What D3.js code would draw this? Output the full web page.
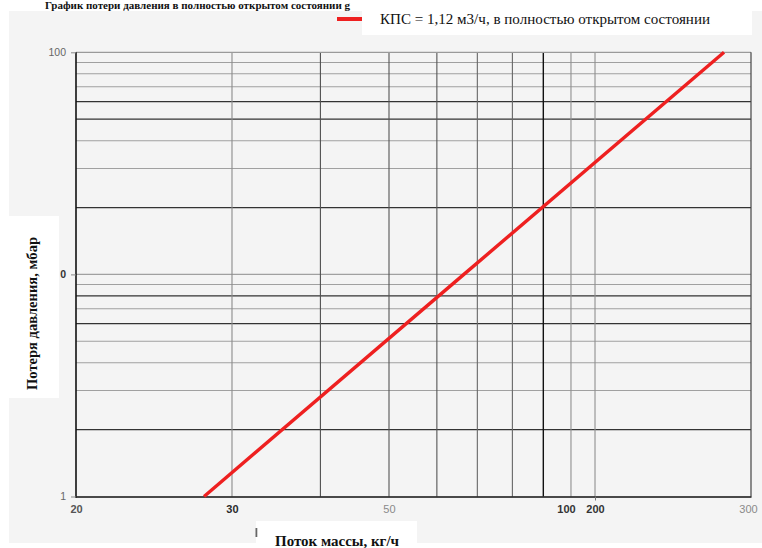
<!DOCTYPE html>
<html>
<head>
<meta charset="utf-8">
<script src="https://cdn.jsdelivr.net/npm/d3@7"></script>
<style>
  html, body { margin: 0; padding: 0; background: #ffffff; }
  svg { display: block; }
</style>
</head>
<body>
<svg id="chart" width="762" height="548"></svg>
<script>
// ---------------- DATA ----------------
const titleText = "График потери давления в полностью открытом состоянии g";
const seriesName = "КПС = 1,12 м3/ч, в полностью открытом состоянии";
const xTitle = "Поток массы, кг/ч";
const yTitle = "Потеря давления, мбар";

const xTickValues = [20, 30, 50, 100, 200, 300];
const xTickLabels = ["20", "30", "50", "100", "200", "300"];
const xGridValues = [30, 40, 50, 60, 70, 80, 90, 100, 200];

const yTickValues = [1, 10, 100];
const yTickLabels = ["1", "0", "100"];
const yGridValues = [2, 3, 4, 5, 6, 7, 8, 9, 10, 20, 30, 40, 50, 60, 70, 80, 90];

const flowValues = [27.9, 66.5, 279.7];   // kg/h
const lossValues = [1, 10, 100];          // mbar

// ---------------- LAYOUT / STYLE ----------------
const plot = { left: 76, right: 751, top: 52.3, bottom: 496.5 };
// relative positions of the x-axis knots across the plot width (the source axis is non-uniform)
const xKnotFrac = [0, 0.2311, 0.4637, 0.7333, 0.7689, 1];

const darkY = new Set([2, 6, 8, 20, 50, 60]);
const xGridColor = { 30: "#8a8a8a", 40: "#505050", 50: "#555", 60: "#555", 70: "#666",
                     80: "#666", 90: "#111", 100: "#8f8f8f", 200: "#8f8f8f" };
const xLabelStyle = { "20": ["#555", "bold"], "30": ["#2a2a2a", "bold"], "50": ["#8a8a8a", "normal"],
                      "100": ["#333", "bold"], "200": ["#333", "bold"], "300": ["#8a8a8a", "normal"] };
const xLabelDx = { "100": -5, "300": -3 };
const yLabelStyle = { "100": ["#666", "normal"], "0": ["#333", "bold"], "1": ["#666", "normal"] };

const svg = d3.select("#chart");

// background panels
svg.append("rect").attr("x", 9).attr("y", 11).attr("width", 753).attr("height", 532).attr("fill", "#f4f4f4");
svg.append("rect").attr("x", 43).attr("y", 0).attr("width", 709).attr("height", 11).attr("fill", "#ffffff");
svg.append("rect").attr("x", 362).attr("y", 0).attr("width", 390).attr("height", 35).attr("fill", "#ffffff");
svg.append("rect").attr("x", 9).attr("y", 216).attr("width", 50).attr("height", 182).attr("fill", "#ffffff");
svg.append("rect").attr("x", 256).attr("y", 521).attr("width", 161).attr("height", 27).attr("fill", "#ffffff");
svg.append("rect").attr("x", 255.5).attr("y", 528).attr("width", 1.8).attr("height", 9).attr("fill", "#666");

// scales
const x = d3.scaleLog()
  .domain(xTickValues)
  .range(xKnotFrac.map(f => plot.left + f * (plot.right - plot.left)));
const y = d3.scaleLog().domain([1, 100]).range([plot.bottom, plot.top]);

// horizontal grid
svg.append("g").selectAll("line").data(yGridValues).join("line")
  .attr("x1", plot.left).attr("x2", plot.right)
  .attr("y1", d => y(d)).attr("y2", d => y(d))
  .attr("stroke", d => darkY.has(d) ? "#333" : "#a0a0a0")
  .attr("stroke-width", d => darkY.has(d) ? 1.3 : 1.1);

// vertical grid
svg.append("g").selectAll("line").data(xGridValues).join("line")
  .attr("x1", d => x(d)).attr("x2", d => x(d))
  .attr("y1", plot.top).attr("y2", plot.bottom)
  .attr("stroke", d => xGridColor[d])
  .attr("stroke-width", d => d === 90 ? 1.4 : 1.1);

// top and right borders
svg.append("line").attr("x1", plot.left).attr("x2", plot.right).attr("y1", plot.top).attr("y2", plot.top)
  .attr("stroke", "#9a9a9a").attr("stroke-width", 1.2);
svg.append("line").attr("x1", plot.right).attr("x2", plot.right).attr("y1", plot.top).attr("y2", plot.bottom)
  .attr("stroke", "#444").attr("stroke-width", 1.2);

// y axis
const yAxis = d3.axisLeft(y).tickValues(yTickValues)
  .tickFormat((d, i) => yTickLabels[i]).tickSizeInner(5).tickSizeOuter(0).tickPadding(5);
const gy = svg.append("g").attr("transform", `translate(${plot.left},0)`).call(yAxis);
gy.select(".domain").attr("stroke", "#111").attr("stroke-width", 1.6)
  .attr("d", `M0,${plot.top}V${plot.bottom + 1.5}`);
gy.selectAll(".tick line").attr("stroke", "#888");
gy.selectAll(".tick text")
  .attr("font-family", "Liberation Sans, Arial, sans-serif").attr("font-size", 10.5)
  .attr("fill", (d, i) => yLabelStyle[yTickLabels[i]][0])
  .attr("font-weight", (d, i) => yLabelStyle[yTickLabels[i]][1]);

// x axis
const xAxis = d3.axisBottom(x).tickValues(xTickValues)
  .tickFormat((d, i) => xTickLabels[i]).tickSizeInner(0).tickSizeOuter(0).tickPadding(9);
const gx = svg.append("g").attr("transform", `translate(0,${plot.bottom})`).call(xAxis);
gx.select(".domain").attr("stroke", "#111").attr("stroke-width", 1.6);
gx.selectAll(".tick text")
  .attr("font-family", "Liberation Sans, Arial, sans-serif").attr("font-size", 11)
  .attr("dx", (d, i) => xLabelDx[xTickLabels[i]] || 0)
  .attr("fill", (d, i) => xLabelStyle[xTickLabels[i]][0])
  .attr("font-weight", (d, i) => xLabelStyle[xTickLabels[i]][1]);
// small tick below the 200 mark
gx.selectAll(".tick").filter(d => d === 200).append("line")
  .attr("y1", 0).attr("y2", 4).attr("stroke", "#777");

// series line
const pts = flowValues.map((q, i) => [q, lossValues[i]]);
svg.append("path").datum(pts)
  .attr("fill", "none").attr("stroke", "#ee2020").attr("stroke-width", 3.4)
  .attr("stroke-linecap", "butt")
  .attr("d", d3.line().x(d => x(d[0])).y(d => y(d[1])));

// legend
svg.append("line").attr("x1", 337).attr("x2", 362).attr("y1", 19).attr("y2", 19)
  .attr("stroke", "#ee2020").attr("stroke-width", 4);
svg.append("text").attr("x", 380).attr("y", 23.5)
  .attr("font-family", "Liberation Serif, Times New Roman, serif").attr("font-size", 15)
  .attr("fill", "#111").attr("textLength", 330).attr("lengthAdjust", "spacingAndGlyphs")
  .text(seriesName);

// small title in the top band
svg.append("text").attr("x", 45).attr("y", 9)
  .attr("font-family", "Liberation Serif, Times New Roman, serif").attr("font-size", 10)
  .attr("font-weight", "bold").attr("fill", "#111")
  .attr("textLength", 305).attr("lengthAdjust", "spacingAndGlyphs")
  .text(titleText);

// axis titles
svg.append("text").attr("x", 337).attr("y", 545.5).attr("text-anchor", "middle")
  .attr("font-family", "Liberation Serif, Times New Roman, serif").attr("font-size", 14)
  .attr("font-weight", "bold").attr("fill", "#111")
  .attr("textLength", 124).attr("lengthAdjust", "spacingAndGlyphs")
  .text(xTitle);
svg.append("text").attr("transform", "translate(36.5,313.5) rotate(-90)").attr("text-anchor", "middle")
  .attr("font-family", "Liberation Serif, Times New Roman, serif").attr("font-size", 14)
  .attr("font-weight", "bold").attr("fill", "#111")
  .attr("textLength", 153).attr("lengthAdjust", "spacingAndGlyphs")
  .text(yTitle);
</script>
</body>
</html>
